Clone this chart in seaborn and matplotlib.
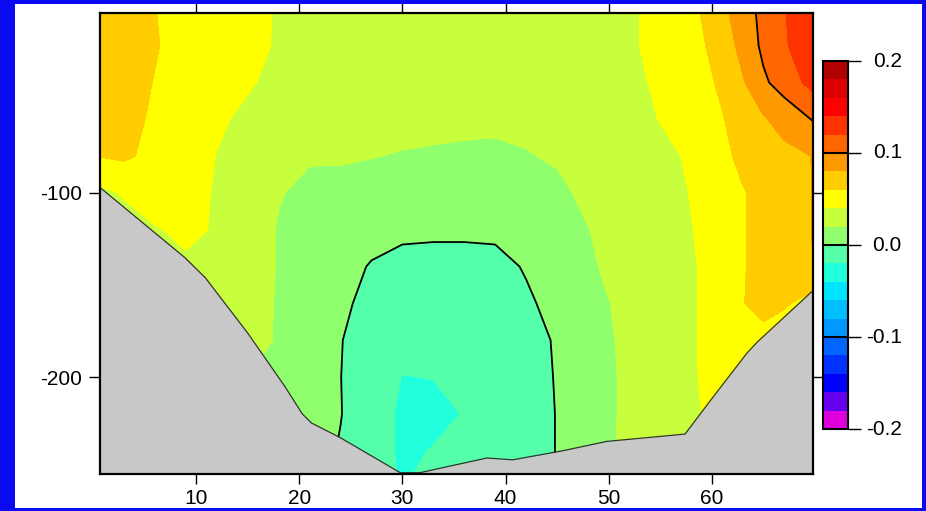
import numpy as np
import matplotlib
matplotlib.use("Agg")
import matplotlib.pyplot as plt
from matplotlib.patches import Rectangle
from matplotlib.ticker import FixedLocator, NullFormatter
import seaborn as sns

# station positions along the section and depth levels (m)
station_x = [0.7, 3, 6, 9, 12, 15, 18, 21, 24, 27, 30, 33, 36, 39, 42, 45,
             48, 51, 54, 57, 59, 61, 63, 65, 67, 69.8]
depth = [0, -20, -40, -60, -80, -100, -120, -140, -160, -180, -200, -220, -240, -255]

z000 = [0.072, 0.072, 0.0605, 0.051, 0.050, 0.047, 0.038, 0.035, 0.033, 0.032, 0.031, 0.031, 0.031,
        0.031, 0.032, 0.033, 0.034, 0.036, 0.042, 0.052, 0.061, 0.075, 0.092, 0.105, 0.119, 0.136]
z020 = [0.072, 0.072, 0.062, 0.050, 0.050, 0.046, 0.038, 0.034, 0.032, 0.031, 0.030, 0.030, 0.030,
        0.030, 0.031, 0.032, 0.034, 0.036, 0.042, 0.051, 0.058, 0.068, 0.087, 0.104, 0.118, 0.132]
z040 = [0.071, 0.071, 0.059, 0.050, 0.047, 0.042, 0.035, 0.031, 0.029, 0.028, 0.027, 0.027, 0.027,
        0.027, 0.028, 0.030, 0.032, 0.034, 0.0405, 0.049, 0.055, 0.063, 0.078, 0.097, 0.108, 0.127]
z060 = [0.070, 0.069, 0.056, 0.050, 0.043, 0.036, 0.032, 0.027, 0.026, 0.026, 0.025, 0.0245, 0.024,
        0.0235, 0.024, 0.028, 0.031, 0.033, 0.038, 0.046, 0.052, 0.059, 0.068, 0.078, 0.088, 0.101]
z080 = [0.0605, 0.063, 0.055, 0.050, 0.0395, 0.033, 0.028, 0.0215, 0.022, 0.0205, 0.019, 0.018, 0.017,
        0.0165, 0.019, 0.022, 0.028, 0.031, 0.035, 0.040, 0.048, 0.056, 0.064, 0.068, 0.074, 0.0805]
z100 = [0.035, 0.042, 0.053, 0.048, 0.038, 0.031, 0.021, 0.016, 0.014, 0.013, 0.012, 0.011, 0.010,
        0.010, 0.012, 0.016, 0.024, 0.030, 0.033, 0.038, 0.0435, 0.052, 0.059, 0.064, 0.070, 0.0805]
z120 = [0.030, 0.030, 0.038, 0.045, 0.038, 0.029, 0.019, 0.013, 0.009, 0.004, 0.002, 0.002, 0.002,
        0.002, 0.004, 0.010, 0.0195, 0.028, 0.031, 0.037, 0.042, 0.050, 0.059, 0.065, 0.070, 0.0805]
z140 = [0.030, 0.031, 0.035, 0.036, 0.035, 0.029, 0.019, 0.011, 0.004, -0.0008, -0.003, -0.004, -0.004,
        -0.003, 0.0008, 0.004, 0.017, 0.026, 0.030, 0.036, 0.041, 0.050, 0.059, 0.065, 0.068, 0.0802]
z160 = [0.030, 0.030, 0.032, 0.032, 0.031, 0.028, 0.0185, 0.010, 0.002, -0.003, -0.007, -0.008, -0.008,
        -0.006, -0.0015, 0.003, 0.015, 0.022, 0.029, 0.036, 0.041, 0.050, 0.0595, 0.065, 0.063, 0.050]
z180 = [0.030, 0.030, 0.030, 0.030, 0.030, 0.026, 0.0185, 0.009, 0.0005, -0.006, -0.012, -0.013, -0.012,
        -0.008, -0.003, 0.0008, 0.013, 0.021, 0.029, 0.036, 0.041, 0.048, 0.052, 0.055, 0.045, 0.040]
z200 = [0.030, 0.030, 0.030, 0.030, 0.030, 0.020, 0.017, 0.008, 0.0002, -0.008, -0.0205, -0.0195, -0.017,
        -0.010, -0.004, 0.0006, 0.012, 0.0205, 0.029, 0.035, 0.041, 0.045, 0.050, 0.048, 0.044, 0.040]
z220 = [0.030, 0.030, 0.030, 0.030, 0.030, 0.020, 0.016, 0.007, 0.0005, -0.009, -0.024, -0.026, -0.019,
        -0.011, -0.004, 0.0003, 0.012, 0.0205, 0.029, 0.034, 0.040, 0.040, 0.045, 0.045, 0.042, 0.040]
z240 = [0.030, 0.030, 0.030, 0.030, 0.030, 0.020, 0.016, 0.006, -0.001, -0.009, -0.024, -0.019, -0.013,
        -0.010, -0.004, 0.0003, 0.012, 0.021, 0.029, 0.034, 0.040, 0.040, 0.045, 0.045, 0.042, 0.040]
z255 = [0.030, 0.030, 0.030, 0.030, 0.030, 0.020, 0.016, 0.006, -0.002, -0.010, -0.022, -0.015, -0.010,
        -0.009, -0.004, 0.0003, 0.012, 0.021, 0.029, 0.034, 0.040, 0.040, 0.045, 0.045, 0.042, 0.040]

# sea floor
bottom_x = [0.7, 8.9, 10.9, 15.0, 18.6, 20.3, 21.2, 24.0, 29.8, 31.7, 38.2, 40.7,
            45.6, 49.8, 57.4, 60.1, 63.4, 64.4, 69.8]
bottom_z = [-97, -135, -146, -176, -205, -220, -225, -233, -252, -252, -244, -245,
            -240, -235, -231, -211, -187, -181, -153]

level_colors = ["#DD00DD", "#6600EE", "#0000FF", "#0033FF", "#0066FF",
                "#0099FF", "#00BFFF", "#00E5FF", "#22FFDD", "#55FFAA",
                "#90FF6E", "#C8FF3C", "#FFFF00", "#FFCC00", "#FF9900",
                "#FF6600", "#FF3300", "#FF0000", "#DD0000", "#B00000"]
cbar_ticks = [-0.2, -0.1, 0.0, 0.1, 0.2]
x_ticks = [10, 20, 30, 40, 50, 60]
y_ticks = [-100, -200]

sns.set_theme(style="white")
plt.rcParams["font.family"] = ["Liberation Sans", "DejaVu Sans"]
plt.rcParams["axes.unicode_minus"] = False

fig = plt.figure(figsize=(9.26, 5.11), dpi=100)
fig.patch.set_facecolor("white")
ax = fig.add_axes([100 / 926, 37 / 511, 713 / 926, 461 / 511])
cax = fig.add_axes([823 / 926, 82 / 511, 25 / 926, 368 / 511])

field = np.array([z000, z020, z040, z060, z080, z100, z120, z140,
                  z160, z180, z200, z220, z240, z255])
levels = np.linspace(-0.2, 0.2, 21)

cf = ax.contourf(station_x, depth, field, levels=levels, colors=level_colors)
ax.contour(station_x, depth, field, levels=[0.0, 0.1], colors="black", linewidths=1.3)

# bathymetry
ax.fill_between(bottom_x, bottom_z, -300, color="#C8C8C8", linewidth=0, zorder=3)
sns.lineplot(x=bottom_x, y=bottom_z, ax=ax, color="#333333", linewidth=0.9,
             sort=False, zorder=4)

ax.set_xlim(0.7, 69.8)
ax.set_ylim(-252.7, -2.2)
ax.set_xlabel("")
ax.set_ylabel("")
ax.xaxis.set_major_locator(FixedLocator(x_ticks))
ax.yaxis.set_major_locator(FixedLocator(y_ticks))
ax.tick_params(axis="both", which="major", direction="out", length=7, width=1,
               color="black", labelsize=15, labelcolor="black",
               top=True, right=True, bottom=True, left=True,
               labeltop=False, labelright=False)
ax.tick_params(axis="x", pad=4)
ax.tick_params(axis="y", length=8, pad=5)
for sp in ax.spines.values():
    sp.set_visible(True)
    sp.set_color("black")
    sp.set_linewidth(1.6)
    sp.set_zorder(6)

# colour bar
cbar = fig.colorbar(cf, cax=cax, ticks=cbar_ticks)
cbar.outline.set_edgecolor("black")
cbar.outline.set_linewidth(1.5)
cax.tick_params(direction="out", length=9, width=1, color="black", labelsize=15)
cax.yaxis.set_major_formatter(NullFormatter())
for v in cbar_ticks[1:-1]:
    cax.axhline(v, color="black", linewidth=1.5)
for v in cbar_ticks:
    cax.text(3.15, v, f"{v:.1f}", ha="right", va="center", fontsize=15,
             color="black", transform=cax.get_yaxis_transform())

# blue frame round the picture
blue = "#0A0AF0"
for rect in [(0, 0, 15 / 926, 1), (922 / 926, 0, 4 / 926, 1),
             (0, 507 / 511, 1, 4 / 511), (0, 0, 1, 3 / 511)]:
    fig.add_artist(Rectangle(rect[:2], rect[2], rect[3], transform=fig.transFigure,
                             facecolor=blue, edgecolor="none", zorder=20))

fig.savefig("out.png", dpi=100, facecolor="white")
